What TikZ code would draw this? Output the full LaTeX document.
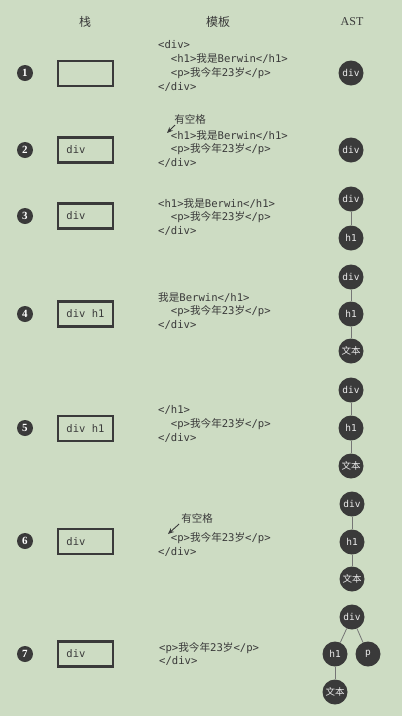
\documentclass[tikz,border=0pt]{standalone}
\usepackage{fontspec}
\setmainfont{Liberation Serif}
\setmonofont{DejaVu Sans Mono}
\newfontfamily\cjk{Noto Sans CJK SC}
\newcommand{\zh}[1]{{\cjk #1}}
\newcommand{\ind}{\hspace*{1.2em}}
\usetikzlibrary{arrows.meta}
\definecolor{bg}{RGB}{205,220,195}
\definecolor{ink}{RGB}{58,58,58}
\begin{document}
\begin{tikzpicture}[x=1pt,y=-1pt,
		num/.style={circle,fill=ink,text=white,minimum size=16pt,inner sep=0,font=\fontsize{11}{12}\selectfont\bfseries},
		stackbox/.style={draw=ink,line width=2.2pt,minimum width=55pt,minimum height=25pt,
			text width=38pt,inner xsep=8.5pt,align=left,text=ink,font=\ttfamily\fontsize{10.5}{12}\selectfont},
		tpl/.style={anchor=west,align=left,inner sep=0,text=ink,font=\ttfamily\fontsize{10.6}{13.8}\selectfont},
		ast/.style={circle,fill=ink,text=white!90!ink,minimum size=25pt,inner sep=0,font=\ttfamily\fontsize{9.5}{12}\selectfont},
		link/.style={draw=ink!70,line width=0.8pt},
		note/.style={inner sep=1pt,text=ink,font=\cjk\fontsize{10.5}{12}\selectfont},
		pointer/.style={-{Stealth[length=6pt,width=5pt]},draw=ink,line width=0.9pt},
		hd/.style={text=ink,font=\large}]
	\fill[bg] (0,0) rectangle (402,716);
	% column heads
	\node[hd] (hstack) at (85,22) {\cjk 栈};
	\node[hd] (htpl) at (218,22) {\cjk 模板};
	\node[hd] (hast) at (352,22) {AST};
	% steps and stack
	\foreach \i/\y in {1/73,2/150,3/216,4/314,5/428,6/541,7/654}
		\node[num] (n\i) at (25,\y) {\i};
	\foreach \i/\y/\t in {1/73.5/{},2/150/div,3/216/div,4/314/{div\hspace{.6em}h1},5/428.5/{div\hspace{.6em}h1},6/541.5/div,7/654/div}
		\node[stackbox] (s\i) at (85.5,\y) {\t};
	% templates
	\node[tpl] (t1) at (158,66) {<div>\\\ind<h1>\zh{我是}Berwin</h1>\\\ind<p>\zh{我今年}23\zh{岁}</p>\\</div>};
	\node[tpl] (t2) at (158,149) {\ind<h1>\zh{我是}Berwin</h1>\\\ind<p>\zh{我今年}23\zh{岁}</p>\\</div>};
	\node[tpl] (t3) at (158,217) {<h1>\zh{我是}Berwin</h1>\\\ind<p>\zh{我今年}23\zh{岁}</p>\\</div>};
	\node[tpl] (t4) at (158,311) {\zh{我是}Berwin</h1>\\\ind<p>\zh{我今年}23\zh{岁}</p>\\</div>};
	\node[tpl] (t5) at (158,424) {</h1>\\\ind<p>\zh{我今年}23\zh{岁}</p>\\</div>};
	\node[tpl] (t6) at (158,544.5) {\ind<p>\zh{我今年}23\zh{岁}</p>\\</div>};
	\node[tpl] (t7) at (159,654) {<p>\zh{我今年}23\zh{岁}</p>\\</div>};
	% blank notes
	\node[note] (sp2) at (190,119) {有空格};
	\coordinate (sp2t) at (167,133);
	\draw[pointer] ([xshift=2pt]sp2.south west) -- (sp2t);
	\node[note] (sp6) at (197,518) {有空格};
	\coordinate (sp6t) at (168,534);
	\draw[pointer] ([xshift=-1pt]sp6.south west) -- (sp6t);
	% AST
	\node[ast] (a1) at (351,73) {div};
	\node[ast] (a2) at (351,150) {div};
	\node[ast] (a3d) at (351,199) {div};
	\node[ast] (a3h) at (351,238) {h1};
	\draw[link] (a3d) -- (a3h);
	\node[ast] (a4d) at (351,277) {div};
	\node[ast] (a4h) at (351,314) {h1};
	\node[ast] (a4t) at (351,351) {\cjk 文本};
	\draw[link] (a4d) -- (a4h); \draw[link] (a4h) -- (a4t);
	\node[ast] (a5d) at (351,390) {div};
	\node[ast] (a5h) at (351,428) {h1};
	\node[ast] (a5t) at (351,466) {\cjk 文本};
	\draw[link] (a5d) -- (a5h); \draw[link] (a5h) -- (a5t);
	\node[ast] (a6d) at (352,504) {div};
	\node[ast] (a6h) at (352,542) {h1};
	\node[ast] (a6t) at (352,579) {\cjk 文本};
	\draw[link] (a6d) -- (a6h); \draw[link] (a6h) -- (a6t);
	\node[ast] (a7d) at (352,617) {div};
	\node[ast] (a7h) at (335,654) {h1};
	\node[ast] (a7p) at (368,654) {p};
	\node[ast] (a7t) at (335,692) {\cjk 文本};
	\draw[link] (a7d) -- (a7h); \draw[link] (a7d) -- (a7p); \draw[link] (a7h) -- (a7t);
\end{tikzpicture}
\end{document}
